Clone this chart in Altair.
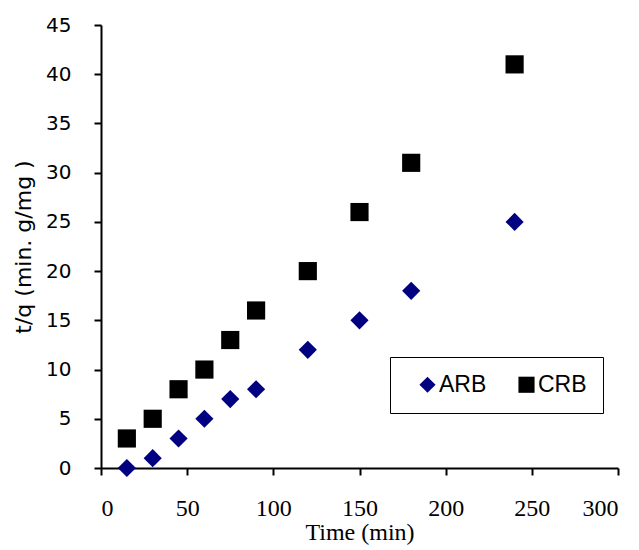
import altair as alt
import pandas as pd

time_min = [15, 30, 45, 60, 75, 90, 120, 150, 180, 240]
arb = [0, 1, 3, 5, 7, 8, 12, 15, 18, 25]
crb = [3, 5, 8, 10, 13, 16, 20, 26, 31, 41]
series = ["ARB", "CRB"]
colors = ["#000080", "#000000"]
shapes = ["diamond", "square"]

rows = []
for t, a in zip(time_min, arb):
    rows.append({"time": t, "tq": a, "series": "ARB"})
for t, c in zip(time_min, crb):
    rows.append({"time": t, "tq": c, "series": "CRB"})
df = pd.DataFrame(rows)

legend = alt.Legend(
    title=None, orient="none", legendX=289, legendY=332, direction="horizontal",
    strokeColor="black", fillColor="white", padding=16, symbolOffset=10,
    symbolSize=260, symbolType="square", labelFont="Liberation Sans", labelFontSize=23,
    labelColor="black", labelOffset=0, columnPadding=18, symbolStrokeWidth=0,
)

chart = alt.Chart(df).mark_point(filled=True, size=330, opacity=1, strokeWidth=0).encode(
    x=alt.X("time:Q", scale=alt.Scale(domain=[0, 300], nice=False),
            axis=alt.Axis(title="Time (min)", values=[0, 50, 100, 150, 200, 250, 300],
                          grid=False, tickSize=7, labelPadding=21,
                          labelFont="Liberation Serif", labelFontSize=24,
                          titleFont="Liberation Serif", titleFontSize=24, titleFontWeight="normal",
                          titleBaseline="top", titleY=52)),
    y=alt.Y("tq:Q", scale=alt.Scale(domain=[0, 45], nice=False),
            axis=alt.Axis(title="t/q (min. g/mg )", values=list(range(0, 50, 5)),
                          grid=False, tickSize=7, labelPadding=23,
                          labelFont="DejaVu Sans", labelFontSize=20,
                          titleFont="DejaVu Sans", titleFontSize=22, titleFontWeight="normal",
                          titleBaseline="middle", titleX=-78)),
    color=alt.Color("series:N", scale=alt.Scale(domain=series, range=colors), legend=legend),
    shape=alt.Shape("series:N", scale=alt.Scale(domain=series, range=shapes), legend=legend),
).properties(
    width=517, height=443,
    autosize=alt.AutoSizeParams(type="none"),
    padding={"left": 101, "top": 25, "right": 21, "bottom": 82},
).configure_view(stroke=None).configure_axis(
    domainColor="black", domainWidth=2, tickColor="black", tickWidth=2,
    labelColor="black", titleColor="black",
)

chart.save("out.html", embed_options={"renderer": "svg", "actions": False})
